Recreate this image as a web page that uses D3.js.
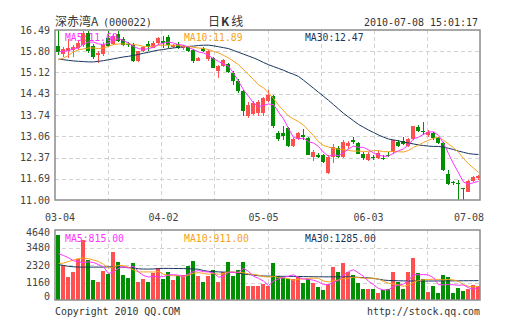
<!DOCTYPE html>
<html><head><meta charset="utf-8">
<script src="https://cdn.jsdelivr.net/npm/d3@7"></script>
<style>html,body{margin:0;padding:0;background:#fff;} svg{display:block;}</style>
</head><body>
<svg id="c" width="505" height="330"></svg>
<script>
// ---- data ----
const opens = [15.98,15.70,15.80,15.85,15.90,16.00,16.40,15.98,15.68,15.72,
16.22,16.05,16.35,16.20,16.05,16.02,15.48,15.82,16.05,15.92,
16.08,16.12,16.28,15.95,16.05,15.90,15.93,15.85,15.50,15.90,
15.56,15.58,15.18,15.32,15.39,15.10,14.83,14.51,13.72,13.78,
13.80,13.80,14.20,14.35,13.16,13.16,13.33,12.74,12.97,13.10,
13.00,12.40,12.45,12.45,11.88,12.40,12.68,12.40,12.75,12.95,
12.84,12.50,12.30,12.38,12.35,12.37,12.44,12.55,12.88,12.90,
12.75,12.98,13.37,13.22,13.10,13.15,12.99,12.83,11.84,11.58,
11.55,11.38,11.27,11.62,11.72];
const highs = [16.49,15.95,16.20,16.00,16.12,16.45,16.45,16.05,15.80,16.10,
16.45,16.35,16.45,16.28,16.10,16.08,15.82,15.98,16.12,16.12,
16.28,16.30,16.32,16.05,16.10,16.00,15.98,15.88,15.62,15.95,
15.85,15.62,15.35,15.55,15.42,15.15,14.90,14.55,14.15,14.20,
14.22,14.32,14.55,14.40,13.22,13.40,13.35,13.00,13.20,13.28,
13.05,12.60,12.52,12.50,12.45,12.80,12.75,12.95,12.90,13.05,
12.88,12.55,12.55,12.45,12.58,12.45,12.55,12.95,12.95,13.02,
13.00,13.40,13.42,13.52,13.25,13.20,13.02,12.88,11.98,11.60,
11.63,11.40,11.64,11.78,11.80];
const lows = [15.68,15.62,15.58,15.62,15.85,15.95,15.75,15.55,15.42,15.65,
15.95,16.00,16.10,15.98,15.95,15.45,15.45,15.78,15.80,15.90,
16.02,15.90,15.92,15.90,15.88,15.85,15.78,15.42,15.48,15.78,
15.50,15.25,14.95,15.28,15.10,14.72,14.45,13.70,13.65,13.75,
13.72,13.72,14.15,13.33,12.90,12.95,12.72,12.70,12.95,12.95,
12.45,12.25,12.35,12.20,11.83,12.20,12.35,12.35,12.65,12.80,
12.50,12.30,12.25,12.28,12.33,12.30,12.40,12.50,12.70,12.78,
12.70,12.95,13.20,13.10,13.05,12.95,12.80,11.95,11.50,11.50,
11.00,11.00,11.25,11.58,11.65];
const closes = [15.79,15.88,15.90,15.95,16.08,16.40,15.80,15.62,15.74,16.05,
15.98,16.30,16.15,16.02,16.00,15.48,15.80,15.95,15.93,16.08,
16.23,16.07,16.02,16.00,15.92,15.98,15.82,15.48,15.60,15.82,
15.80,15.27,15.32,15.53,15.13,14.83,14.51,13.86,14.08,14.14,
14.18,14.28,14.40,13.38,12.97,13.06,12.74,12.97,13.16,13.05,
12.46,12.56,12.40,12.24,12.40,12.70,12.40,12.88,12.85,12.88,
12.50,12.37,12.50,12.35,12.52,12.33,12.42,12.95,12.74,12.80,
12.98,13.38,13.24,13.18,13.20,12.99,12.83,11.97,11.52,11.54,
11.53,11.36,11.62,11.75,11.76];
const ma5 = [15.78,15.80,15.82,15.89,15.91,16.04,16.10,16.10,16.04,16.02,
16.07,16.15,16.21,16.15,16.07,15.96,15.89,15.86,15.89,15.93,
16.02,16.07,16.10,16.07,16.02,16.00,15.93,15.86,15.78,15.75,
15.67,15.56,15.48,15.39,15.32,15.10,14.83,14.56,14.35,14.13,
14.02,14.05,14.10,14.08,13.84,13.62,13.31,13.02,12.98,13.00,
12.88,12.84,12.73,12.54,12.41,12.46,12.43,12.52,12.65,12.74,
12.70,12.70,12.62,12.52,12.45,12.41,12.42,12.51,12.59,12.65,
12.78,12.97,13.03,13.12,13.20,13.20,13.09,12.83,12.50,12.17,
11.88,11.58,11.51,11.56,11.60];
const ma10 = [15.53,15.58,15.67,15.78,15.85,15.88,15.91,15.91,15.89,15.91,
15.96,16.02,16.04,16.04,16.04,16.02,16.00,15.96,15.96,15.96,
16.00,16.00,16.00,16.00,16.00,15.96,15.96,15.93,15.91,15.89,
15.86,15.80,15.75,15.67,15.59,15.48,15.37,15.21,15.05,14.89,
14.72,14.62,14.46,14.28,14.06,13.89,13.71,13.62,13.53,13.42,
13.25,13.08,12.88,12.76,12.71,12.67,12.64,12.63,12.60,12.58,
12.58,12.57,12.57,12.59,12.60,12.56,12.56,12.57,12.56,12.55,
12.60,12.70,12.77,12.86,12.93,12.99,13.03,12.93,12.81,12.69,
12.54,12.34,12.17,12.03,11.89];
const ma30 = [15.55,15.53,15.51,15.49,15.48,15.47,15.46,15.46,15.48,15.50,
15.53,15.56,15.59,15.62,15.64,15.67,15.70,15.74,15.77,15.81,
15.84,15.86,15.89,15.91,15.93,15.95,15.96,15.97,15.99,16.00,
16.00,15.98,15.95,15.92,15.89,15.83,15.77,15.71,15.65,15.59,
15.52,15.44,15.37,15.31,15.25,15.19,15.12,15.06,14.99,14.87,
14.74,14.61,14.48,14.35,14.22,14.08,13.94,13.80,13.68,13.56,
13.44,13.35,13.26,13.18,13.10,13.03,12.97,12.94,12.91,12.87,
12.84,12.81,12.78,12.76,12.74,12.73,12.73,12.71,12.67,12.63,
12.58,12.54,12.50,12.48,12.47];
const volumes = [4276,2353,1514,1845,2685,3966,2641,1293,1182,1911,
1735,3171,2508,1690,1470,2420,1182,1359,1182,1757,
2133,1359,1867,1293,1580,1690,2243,2618,1624,1226,
1558,1956,1226,1845,2552,1624,1956,2486,895,895,
961,1028,961,2420,1624,1470,1425,1425,1514,1138,
1359,1138,851,630,1050,2177,1889,2420,1889,1690,
1094,762,762,762,431,630,762,1889,1226,762,
1823,2771,1757,1359,563,950,480,1650,1500,455,
800,600,720,1000,955];
const volMa5 = [3060,2950,2800,2600,2535,2473,2530,2486,2353,2199,
1752,1858,2101,2203,2115,2252,1854,1624,1523,1580,
1523,1558,1660,1682,1646,1558,1735,1885,1951,1880,
1854,1796,1518,1562,1827,1841,1841,2093,1903,1571,
1439,1253,948,1253,1399,1501,1580,1673,1492,1394,
1372,1315,1200,1023,1006,1169,1319,1633,1885,2013,
1796,1571,1239,1014,762,669,669,895,988,1054,
1292,1694,1668,1694,1655,1480,1022,1000,1029,1007,
977,1001,815,715,815];
const volMa10 = [2400,2450,2550,2650,2750,2780,2740,2650,2550,2367,
2113,2194,2294,2278,2157,2002,1856,1863,1863,1848,
1888,1706,1642,1603,1613,1541,1647,1773,1817,1763,
1706,1766,1702,1757,1854,1848,1819,1806,1733,1699,
1640,1547,1521,1578,1485,1470,1417,1311,1373,1397,
1437,1448,1437,1258,1200,1271,1317,1417,1454,1510,
1483,1445,1436,1450,1388,1233,1120,1067,1001,908,
981,1182,1282,1341,1355,1386,1358,1334,1362,1331,
1229,1012,908,872,911];
const volMa30 = [2350,2290,2230,2200,2185,2180,2180,2180,2180,2185,
2195,2200,2190,2175,2160,2120,2070,2050,2050,2060,
2080,2095,2095,2090,2088,2080,2070,2055,2040,1950,
1900,1880,1865,1850,1845,1835,1780,1720,1690,1650,
1610,1590,1580,1575,1572,1570,1565,1562,1558,1553,
1548,1543,1540,1537,1536,1536,1536,1536,1536,1525,
1500,1480,1465,1430,1380,1320,1295,1285,1275,1268,
1262,1258,1255,1255,1258,1260,1262,1265,1268,1270,
1273,1276,1279,1282,1285];
const priceTicks = ["16.49","15.80","15.12","14.43","13.74","13.06","12.37","11.69","11.00"];
const volTicks = [4640,3480,2320,1160,0];
const dateLabels = ["03-04","04-02","05-05","06-03","07-08"];
const dateLabelIndex = [0,21,41,62,84];
const titleName = "深赤湾A", titleCode = "(000022)", titleTime = "2010-07-08 15:01:17";
const priceLegend = ["MA5:11.60","MA10:11.89","MA30:12.47"];
const volLegend = ["MA5:815.00","MA10:911.00","MA30:1285.00"];

// ---- styles ----
const RED = "#ff4f4f", GREEN = "#008f00";
const C5 = "#ff33ff", C10 = "#f7a21b", C30 = "#17365d";
const MONO = "'DejaVu Sans Mono', monospace";
const CJK = "'Noto Sans CJK SC', sans-serif";

const svg = d3.select("#c");
const L = 55, R = 480, PT = 30, PB = 200, VT = 230, VB = 300;
const n = closes.length;
const x = d3.scaleBand().domain(d3.range(n)).range([L, R]).paddingInner(0.2).paddingOuter(0.1);
const bx = i => Math.round(x(i));
const cx = i => bx(i) + 2.5;
const y = d3.scaleLinear().domain([11.00, 16.49]).range([PB, PT]);
const vy = d3.scaleLinear().domain([0, 4640]).range([VB, VT]);

svg.append("rect").attr("width",505).attr("height",330).attr("fill","#fff");

// grid
const grid = svg.append("g").attr("stroke","#d2d2d2").attr("stroke-dasharray","4,3").attr("stroke-width",1);
const vgx = d3.range(1,8).map(i => L + i*(R-L)/8);
vgx.forEach(gx => {
  const X = Math.round(gx)+0.5;
  grid.append("line").attr("x1",X).attr("x2",X).attr("y1",PT).attr("y2",PB);
  grid.append("line").attr("x1",X).attr("x2",X).attr("y1",VT).attr("y2",VB);
});
priceTicks.slice(1,-1).forEach(t => {
  const Y = Math.round(y(+t))+0.5;
  grid.append("line").attr("x1",L).attr("x2",R).attr("y1",Y).attr("y2",Y);
});
volTicks.slice(1,-1).forEach(t => {
  const Y = Math.round(vy(t))+0.5;
  grid.append("line").attr("x1",L).attr("x2",R).attr("y1",Y).attr("y2",Y);
});

// clip
const defs = svg.append("defs");
defs.append("clipPath").attr("id","cp").append("rect").attr("x",L).attr("y",PT).attr("width",R-L).attr("height",PB-PT);
defs.append("clipPath").attr("id","cv").append("rect").attr("x",L).attr("y",VT).attr("width",R-L).attr("height",VB-VT);

// candles
const cg = svg.append("g").attr("clip-path","url(#cp)");
d3.range(n).forEach(i => {
  const up = closes[i] >= opens[i];
  const col = up ? RED : GREEN;
  const yh = Math.round(y(highs[i])), yl = Math.round(y(lows[i]));
  cg.append("rect").attr("x", bx(i)+2).attr("y", yh).attr("width",1).attr("height", Math.max(1, yl-yh)).attr("fill", col);
  const yt = Math.round(y(Math.max(opens[i],closes[i]))), yb = Math.round(y(Math.min(opens[i],closes[i])));
  cg.append("rect").attr("x", bx(i)).attr("y", yt).attr("width",4).attr("height", Math.max(1, yb-yt)).attr("fill", col);
});
const line = (arr, sc) => d3.line().x((d,i)=>cx(i)).y(d=>sc(d))(arr);
[[ma30,C30],[ma10,C10],[ma5,C5]].forEach(([a,c]) => {
  cg.append("path").attr("d", line(a,y)).attr("fill","none").attr("stroke",c).attr("stroke-width",1);
});

// volume
const vg = svg.append("g").attr("clip-path","url(#cv)");
d3.range(n).forEach(i => {
  const col = closes[i] >= opens[i] ? RED : GREEN;
  const t = Math.round(vy(volumes[i]));
  vg.append("rect").attr("x", bx(i)).attr("y", t).attr("width",4).attr("height", VB - t).attr("fill", col);
});
[[volMa30,C30],[volMa10,C10],[volMa5,C5]].forEach(([a,c]) => {
  vg.append("path").attr("d", line(a,vy)).attr("fill","none").attr("stroke",c).attr("stroke-width",1);
});

// borders
svg.append("rect").attr("x",L).attr("y",PT).attr("width",R-L).attr("height",PB-PT).attr("fill","none").attr("stroke","#8c8c8c").attr("stroke-width",1.5);
svg.append("rect").attr("x",L).attr("y",VT).attr("width",R-L).attr("height",VB-VT).attr("fill","none").attr("stroke","#8c8c8c").attr("stroke-width",1.5);

// axis labels
const tx = svg.append("g").attr("font-family",MONO).attr("font-size","10px").attr("fill","#444");
priceTicks.forEach(t => {
  tx.append("text").attr("x",50).attr("y", y(+t)+3.6).attr("text-anchor","end").text(t);
});
volTicks.forEach(t => {
  const c = Math.min(Math.max(vy(t), VT+2), VB-3.5);
  tx.append("text").attr("x",50).attr("y", c+3.6).attr("text-anchor","end").text(String(t));
});
dateLabels.forEach((d,j) => {
  const c = Math.min(Math.max(cx(dateLabelIndex[j]), 60), 469);
  tx.append("text").attr("x",c).attr("y",221).attr("text-anchor","middle").text(d);
});

// legends
const lg = svg.append("g").attr("font-family",MONO).attr("font-size","11px");
const legX = [65,184,305], lcol = [C5,C10,C30];
priceLegend.forEach((s,j) => lg.append("text").attr("x",legX[j]).attr("y",40.5).attr("fill",lcol[j])
  .attr("textLength", s.length*5.85).attr("lengthAdjust","spacingAndGlyphs").text(s));
volLegend.forEach((s,j) => lg.append("text").attr("x",legX[j]).attr("y",241.5).attr("fill",lcol[j])
  .attr("textLength", s.length*5.9).attr("lengthAdjust","spacingAndGlyphs").text(s));

// title & footer
const hd = svg.append("g").attr("fill","#333");
hd.append("text").attr("x",55).attr("y",25.5).attr("font-family",CJK).attr("font-size","12px").text(titleName);
hd.append("text").attr("x",103).attr("y",25.5).attr("font-family",MONO).attr("font-size","11px")
  .attr("textLength",49).attr("lengthAdjust","spacingAndGlyphs").text(titleCode);
const mid = hd.append("text").attr("x",208).attr("y",25.5).attr("font-family",CJK).attr("font-size","12px");
mid.append("tspan").text("日");
mid.append("tspan").attr("font-weight","bold").attr("dx",1).text("K");
mid.append("tspan").attr("dx",2).text("线");
hd.append("text").attr("x",364).attr("y",25.5).attr("font-family",MONO).attr("font-size","11px")
  .attr("textLength",114).attr("lengthAdjust","spacingAndGlyphs").text(titleTime);
hd.append("text").attr("x",55).attr("y",315).attr("font-family",MONO).attr("font-size","11px")
  .attr("textLength",125).attr("lengthAdjust","spacingAndGlyphs").text("Copyright 2010 QQ.COM");
hd.append("text").attr("x",367).attr("y",315).attr("font-family",MONO).attr("font-size","11px")
  .attr("textLength",113).attr("lengthAdjust","spacingAndGlyphs").text("http://stock.qq.com");
</script>
</body></html>
